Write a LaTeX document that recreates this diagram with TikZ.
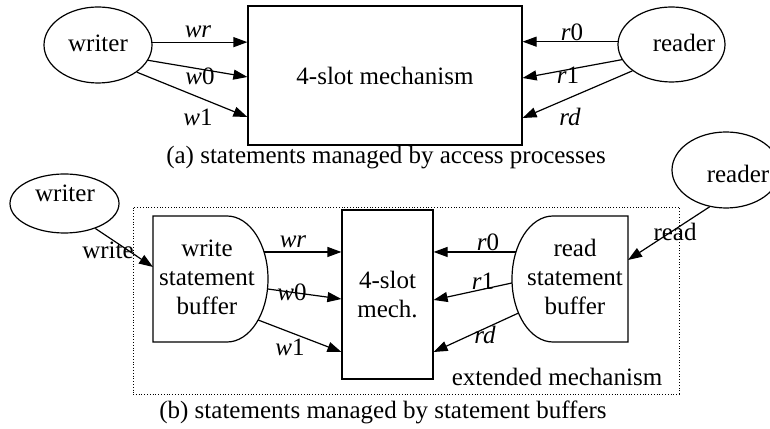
\documentclass[tikz,border=0pt]{standalone}
\usepackage{fontspec}
\setmainfont{Liberation Serif}
\usetikzlibrary{arrows.meta,shapes.geometric,calc}

\tikzset{
  txt/.style={font=\fontsize{25}{29}\selectfont, inner sep=0pt, align=center},
  proc/.style={draw, ellipse, line width=1.2pt, inner sep=0pt},
  box/.style={draw, rectangle, line width=1.2pt, inner sep=0pt},
  flow/.style={line width=1.2pt, -{Triangle[length=14pt,width=10pt]}},
  lab/.style={txt},
  frame/.style={draw, dotted, line width=0.8pt, inner sep=0pt}
}

\begin{document}
\begin{tikzpicture}[x=1pt, y=1pt]
\useasboundingbox (0,0) rectangle (770,428);

% ---------- (a) statements managed by access processes ----------
\node[proc, minimum width=108pt, minimum height=76pt] (writerA) at (98,383) {};
\node[txt] (writerAtext) at (98,385) {writer};
\node[proc, minimum width=107pt, minimum height=75pt] (readerA) at (671.5,383.5) {};
\node[txt] (readerAtext) at (684,385) {reader};
\node[box, txt, minimum width=274pt, minimum height=139pt] (mechA) at (385,352.5) {4-slot mechanism};

\draw[flow] (writerA.3) -- (writerA.3 -| mechA.west);
\draw[flow] (writerA.-17) -- ([yshift=-1.5pt]mechA.west);
\draw[flow] (writerA.-35) -- ([yshift=-41.5pt]mechA.west);
\draw[flow] (readerA.177) -- (readerA.177 -| mechA.east);
\draw[flow] (readerA.197) -- ([yshift=-2.5pt]mechA.east);
\draw[flow] (readerA.214.5) -- ([yshift=-42.5pt]mechA.east);

\node[lab] (lwrA) at (198,396) {\textit{wr}};
\node[lab] (lw0A) at (200,352) {\textit{w}0};
\node[lab] (lw1A) at (198,311) {\textit{w}1};
\node[lab] (lr0A) at (572,396) {\textit{r}0};
\node[lab] (lr1A) at (568,353) {\textit{r}1};
\node[lab] (lrdA) at (570,311) {\textit{rd}};

\node[txt] (capA) at (386,270) {(a) statements managed by access processes};

% ---------- (b) statements managed by statement buffers ----------
\node[frame, minimum width=546pt, minimum height=187pt] (ext) at (406,127.5) {};
\node[txt] (extlabel) at (557,51) {extended mechanism};

\node[proc, minimum width=109pt, minimum height=59pt] (writerB) at (64.5,224.5) {};
\node[txt] (writerBtext) at (65,235) {writer};
\node[proc, minimum width=108pt, minimum height=76pt] (readerB) at (726,258) {};
\node[txt] (readerBtext) at (738,254) {reader};

% write statement buffer: flat left side, elliptic bulge on the right
\coordinate (wc) at (227,149);
\draw[line width=1.2pt] (227,212) -- (153,212) -- (153,86) -- (227,86)
  arc[start angle=-90, end angle=90, x radius=41pt, y radius=63pt] -- cycle;
\node[txt] (wsb) at (207,151) {write\\statement\\buffer};
\coordinate (wsbin) at (153,161);

% read statement buffer: elliptic bulge on the left, flat right side
\coordinate (rc) at (553,149);
\draw[line width=1.2pt] (553,212) -- (628,212) -- (628,86) -- (553,86)
  arc[start angle=270, end angle=90, x radius=41pt, y radius=63pt] -- cycle;
\node[txt] (rsb) at (575,151) {read\\statement\\buffer};
\coordinate (rsbin) at (628,168);

\node[box, txt, minimum width=91pt, minimum height=169pt] (mechB) at (387.5,133.5) {4-slot\\mech.};

% points on the bulges where the slot signals leave
\coordinate (wsbwr) at ($(wc)+(25.4:41pt and 63pt)$);
\coordinate (wsbw0) at ($(wc)+(-9.1:41pt and 63pt)$);
\coordinate (wsbw1) at ($(wc)+(-40.6:41pt and 63pt)$);
\coordinate (rsbr0) at ($(rc)+(154.6:41pt and 63pt)$);
\coordinate (rsbr1) at ($(rc)+(183.6:41pt and 63pt)$);
\coordinate (rsbrd) at ($(rc)+(212.7:41pt and 63pt)$);

\draw[flow] (writerB.-39) -- (wsbin);
\draw[flow] (readerB.246.6) -- (rsbin);

\draw[flow] (wsbwr) -- (wsbwr -| mechB.west);
\draw[flow] (wsbw0) -- ([yshift=-4.5pt]mechB.west);
\draw[flow] (wsbw1) -- ([yshift=-57.5pt]mechB.west);
\draw[flow] (rsbr0) -- (rsbr0 -| mechB.east);
\draw[flow] (rsbr1) -- ([yshift=-5.5pt]mechB.east);
\draw[flow] (rsbrd) -- ([yshift=-57.5pt]mechB.east);

\node[lab] (lwrite) at (108,178) {write};
\node[lab] (lread) at (675,196) {read};
\node[lab] (lwrB) at (293,186) {\textit{wr}};
\node[lab] (lw0B) at (292,136) {\textit{w}0};
\node[lab] (lw1B) at (290,81) {\textit{w}1};
\node[lab] (lr0B) at (488,186) {\textit{r}0};
\node[lab] (lr1B) at (483,147) {\textit{r}1};
\node[lab] (lrdB) at (485,93) {\textit{rd}};

\node[txt] (capB) at (383,16) {(b) statements managed by statement buffers};
\end{tikzpicture}
\end{document}
